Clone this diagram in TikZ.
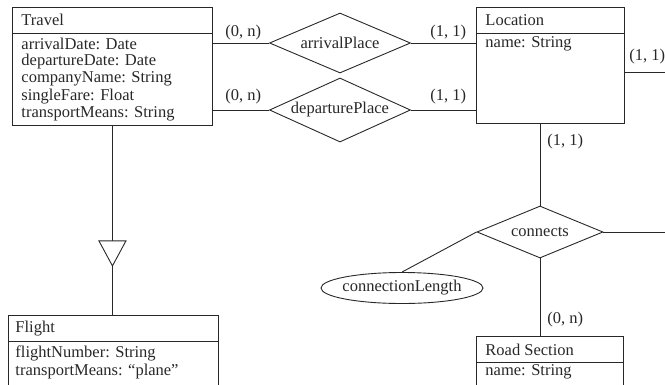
\documentclass[tikz,border=0pt]{standalone}
\usepackage{fontspec}
\setmainfont{Liberation Serif}
\newfontfamily\erfont{Liberation Serif}
\usetikzlibrary{positioning}
\usetikzlibrary{calc}
\usetikzlibrary{shapes.geometric}
\definecolor{ink}{RGB}{40,40,40}

\begin{document}
\begin{tikzpicture}[x=1pt, y=-1pt, line width=0.9pt, draw=ink,
    font=\erfont\fontsize{16.5pt}{17pt}\selectfont,
    entity/.style={draw=ink, rectangle, anchor=north west, inner sep=0pt},
    rel/.style={draw=ink, diamond, inner sep=0pt},
    attrib/.style={draw=ink, ellipse, inner sep=0pt},
    lbl/.style={anchor=west, inner sep=0pt, text=ink},
    card/.style={anchor=west, inner sep=0pt, text=ink}]
    \useasboundingbox (0,0) rectangle (665,384);
    \clip (0,0) rectangle (665,384);

    % entity boxes
    \node[entity, minimum width=200pt, minimum height=118pt] (travel) at (12,7) {};
    \node[entity, minimum width=148pt, minimum height=116pt] (location) at (476,7) {};
    \node[entity, minimum width=210pt, minimum height=100pt] (flight) at (8,315) {};
    \node[entity, minimum width=147pt, minimum height=80pt] (road) at (476,336) {};
    \foreach \e in {travel, location, flight, road} {
        \draw ([yshift=-26pt]\e.north west) -- ([yshift=-26pt]\e.north east);
    }

    % titles and attributes
    \node[lbl] (travel-t) at (21,20) {Travel};
    \foreach \a [count=\i] in {arrivalDate: Date, departureDate: Date, companyName: String, singleFare: Float, transportMeans: String} {
        \node[lbl] (travel-\i) at (21, {44+17.5*(\i-1)}) {\a};
    }
    \node[lbl] (location-t) at (485,20) {Location};
    \node[lbl] (location-1) at (485,44) {name: String};
    \node[lbl] (flight-t) at (15,329) {Flight};
    \node[lbl] (flight-1) at (15,353) {flightNumber: String};
    \node[lbl] (flight-2) at (15,372) {transportMeans: “plane”};
    \node[lbl] (road-t) at (485,350) {Road Section};
    \node[lbl] (road-1) at (485,372) {name: String};

    % relationships
    \node[rel, minimum width=141pt, minimum height=60pt] (arrival) at (340,43) {};
    \node[inner sep=0pt, text=ink] (arrival-t) at (arrival) {arrivalPlace};
    \node[rel, minimum width=141pt, minimum height=64pt] (departure) at (340,110) {};
    \node[inner sep=0pt, text=ink] (departure-t) at (departure) {departurePlace};
    \node[rel, minimum width=126pt, minimum height=52pt] (connects) at (540,232) {};
    \node[inner sep=0pt, text=ink] (connects-t) at (connects) {connects};
    \node[attrib, minimum width=162pt, minimum height=31pt] (conlen) at (402,288) {};
    \node[inner sep=0pt, text=ink] (conlen-t) at (conlen) {connectionLength};

    % connectors
    \coordinate (locout) at (670,72);
    \coordinate (conout) at (670,232);
    \draw (travel.east |- arrival.west) -- (arrival.west);
    \draw (arrival.east) -- (arrival.east -| location.west);
    \draw (travel.east |- departure.west) -- (departure.west);
    \draw (departure.east) -- (departure.east -| location.west);
    \draw (locout -| location.east) -- (locout);
    \draw (connects.north |- location.south) -- (connects.north);
    \draw (connects.east) -- (conout);
    \draw (connects.south) -- (connects.south |- road.north);
    \draw (conlen.north) -- (connects.west);

    % generalization
    \draw (travel.south) -- ++(0,115) coordinate (isatop);
    \draw[fill=white] (isatop) ++(-13.5,0) -- ++(27,0) -- ++(-13.5,25) coordinate (isatip) -- cycle;
    \draw (isatip) -- (isatip |- flight.north);

    % cardinalities
    \node[card] (c1) at (225,33) {(0, n)};
    \node[card] (c2) at (430,33) {(1, 1)};
    \node[card] (c3) at (225,97) {(0, n)};
    \node[card] (c4) at (430,97) {(1, 1)};
    \node[card] (c5) at (629,57) {(1, 1)};
    \node[card] (c6) at (547,142) {(1, 1)};
    \node[card] (c7) at (547,320) {(0, n)};
\end{tikzpicture}
\end{document}
